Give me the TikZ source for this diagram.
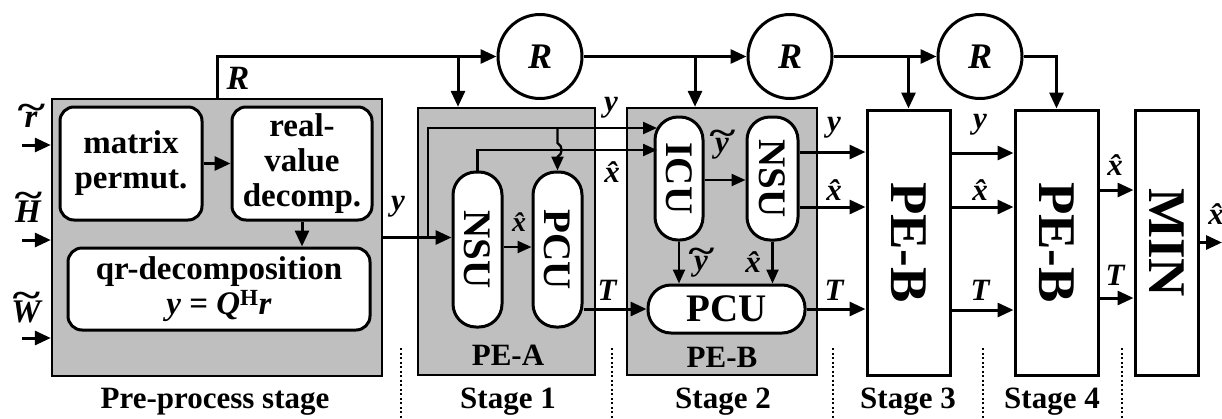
\documentclass[tikz,border=0pt]{standalone}
\usepackage{fontspec}
\setmainfont{Liberation Serif}
\usetikzlibrary{arrows.meta,calc}
\newcommand\fsz[2]{\fontsize{#1pt}{#2pt}\selectfont}
\newcommand\wt[2][0.26em]{\ooalign{#2\cr\hidewidth\raisebox{#1}{\scalebox{1.6}[1.1]{\~{}}}\hidewidth\cr}}
\begin{document}
\begin{tikzpicture}[x=1pt,y=-1pt,
  ln/.style={line width=3pt},
  thin/.style={line width=2.3pt},
  arr/.style={ln,-{Triangle[length=16pt,width=14pt]}},
  tarr/.style={thin,-{Triangle[length=14pt,width=12pt]}},
  gbox/.style={draw,line width=2.4pt,fill=black!25,inner sep=0pt},
  box/.style={draw,line width=3pt,fill=white,rounded corners=14pt,align=center,inner sep=0pt,font=\fsz{33}{35}\bfseries},
  vpill/.style={draw,line width=3pt,fill=white,rounded corners=23pt,rotate=-90,inner sep=0pt,font=\fsz{39}{40}\bfseries},
  hpill/.style={draw,line width=3pt,fill=white,rounded corners=23pt,inner sep=0pt,font=\fsz{39}{40}\bfseries},
  bigbox/.style={draw,line width=3pt,fill=white,rotate=-90,inner sep=0pt,font=\fsz{53}{56}\bfseries},
  rcirc/.style={draw,line width=3pt,fill=white,circle,minimum size=84pt,inner sep=0pt,font=\fsz{36}{38}\bfseries\itshape},
  lbl/.style={inner sep=0pt,font=\fsz{31}{32}\bfseries\itshape},
  stg/.style={inner sep=0pt,font=\fsz{31}{32}\bfseries},
  dots/.style={line width=2pt,dash pattern=on 2pt off 2.5pt}
]
\useasboundingbox (0,0) rectangle (1222,418);

% grey stage boxes
\node[gbox,minimum width=330pt,minimum height=277pt] (pre) at (217,237.5) {};
\node[gbox,minimum width=177pt,minimum height=267pt] (s1) at (506.5,241.5) {};
\node[gbox,minimum width=190pt,minimum height=267pt] (s2) at (722,241.5) {};

% pre-process blocks
\node[box,minimum width=142pt,minimum height=113pt] (mp) at (131,163.5) {matrix\\permut.};
\node[box,minimum width=140pt,minimum height=113pt] (rv) at (302,163.5) {real-\\value\\decomp.};
\node[box,minimum width=302pt,minimum height=82pt] (qr) at (219,289) {qr-decomposition\\\textit{y} = \textit{Q}\textsuperscript{H}\textit{r}};

% stage 1
\node[vpill,minimum width=155pt,minimum height=49pt] (nsu1) at (477.5,249.5) {NSU};
\node[vpill,minimum width=155pt,minimum height=49pt] (pcu1) at (557.5,249.5) {PCU};
\node[stg] (pea) at (508,355) {PE-A};

% stage 2
\node[vpill,minimum width=123pt,minimum height=48pt] (icu) at (679,178.5) {ICU};
\node[vpill,minimum width=123pt,minimum height=51pt] (nsu2) at (772.5,178.5) {NSU};
\node[hpill,minimum width=157pt,minimum height=48pt] (pcu2) at (726.5,309) {PCU};
\node[stg] (peb) at (722,357) {PE-B};

% stage 3, 4, MIN
\node[bigbox,minimum width=265pt,minimum height=83pt] (peb3) at (908.5,242.5) {PE-B};
\node[bigbox,minimum width=265pt,minimum height=83pt] (peb4) at (1056.5,242.5) {PE-B};
\node[bigbox,minimum width=265pt,minimum height=63pt] (min) at (1166.5,242.5) {MIN};

% R registers
\node[rcirc] (r1) at (540,56.5) {R};
\node[rcirc] (r2) at (790,56.5) {R};
\node[rcirc] (r3) at (980,56.5) {R};

% inputs
\coordinate (inr) at (22,145);
\coordinate (inh) at (22,240);
\coordinate (inw) at (22,338);
\draw[arr] (inr) -- (inr -| pre.west);
\draw[arr] (inh) -- (inh -| pre.west);
\draw[arr] (inw) -- (inw -| pre.west);
\node[lbl,font=\fsz{33}{34}\bfseries\itshape] at (31,120) {\wt{r}};
\node[lbl,font=\fsz{33}{34}\bfseries\itshape] at (28,212) {\wt[0.46em]{H}};
\node[lbl,font=\fsz{33}{34}\bfseries\itshape] at (26,312) {\wt[0.46em]{W}};

% pre-process internal
\draw[arr] (mp.east) -- (rv.west);
\draw[arr] (rv.south -| 302,0) -- (qr.north -| 302,0);

% R distribution line
\draw[arr] (pre.north) |- (r1.west);
\node[lbl,font=\fsz{34}{35}\bfseries\itshape] at (238,78) {R};
\coordinate (j1) at (458,56.5);
\draw[arr] (j1) -- (j1 |- s1.north);
\draw[arr] (r1.east) -- (r2.west);
\coordinate (j2) at (695,56.5);
\draw[arr] (j2) -- (j2 |- s2.north);
\draw[arr] (r2.east) -- (r3.west);
\draw[arr] (peb3.west |- r3.west) -- (peb3.west);
\draw[arr] (r3.east) -| (peb4.west);

% y into stage 1
\draw[arr] (pre.east) -- (pre.east -| nsu1.south);
\node[lbl] at (398,207) {y};
\coordinate (b1) at (428,237.5);
\coordinate (icuy) at (657,128);
\coordinate (icux) at (657,150);
\draw[tarr] (b1) |- (icuy);
\draw[tarr] (nsu1.west) |- (icux);
\draw[tarr] (557.5,128) -- (557.5,143) .. controls (563,146) and (563,154) .. (557.5,157) -- (pcu1.west);
\node[lbl] at (611,108) {y};
\node[lbl] at (612,172) {\^{x}};
\draw[tarr] (nsu1.north |- 0,247) -- (pcu1.south |- 0,247);
\node[lbl,font=\fsz{28}{29}\bfseries\itshape] at (519,222) {\^{x}};
\draw[arr] (pcu1.north |- pcu2.west) -- (pcu2.west);
\node[lbl] at (607,290) {T};

% stage 2 internal
\draw[tarr] (icu.north |- 0,180) -- (nsu2.south |- 0,180);
\node[lbl] at (722,145) {\wt{y}};
\draw[tarr] (icu.east) -- (icu.east |- pcu2.north);
\node[lbl] at (701,263) {\wt{y}};
\draw[tarr] (nsu2.east) -- (nsu2.east |- pcu2.north);
\node[lbl] at (753,262) {\^{x}};

% stage 2 -> stage 3
\draw[arr] (nsu2.north |- 0,152) -- (peb3.south |- 0,152);
\draw[arr] (nsu2.north |- 0,207) -- (peb3.south |- 0,207);
\draw[arr] (pcu2.east) -- (pcu2.east -| peb3.south);
\node[lbl] at (834,128) {y};
\node[lbl] at (834,190) {\^{x}};
\node[lbl] at (834,290) {T};

% stage 3 -> stage 4
\draw[arr] (peb3.north |- 0,153) -- (peb4.south |- 0,153);
\draw[arr] (peb3.north |- 0,207) -- (peb4.south |- 0,207);
\draw[arr] (peb3.north |- 0,310) -- (peb4.south |- 0,310);
\node[lbl] at (980,125) {y};
\node[lbl] at (980,190) {\^{x}};
\node[lbl] at (980,290) {T};

% stage 4 -> MIN
\draw[arr] (peb4.north |- 0,190) -- (min.south |- 0,190);
\draw[arr] (peb4.north |- 0,298) -- (min.south |- 0,298);
\node[lbl] at (1115,165) {\^{x}};
\node[lbl] at (1115,275) {T};

% output
\coordinate (out) at (1222,242.5);
\draw[arr] (min.north) -- (out);
\node[lbl] at (1216,214) {\^{x}};

% stage labels
\node[stg] at (215,402) {Pre-process stage};
\node[stg] at (508,402) {Stage 1};
\node[stg] at (723,402) {Stage 2};
\node[stg] at (908,402) {Stage 3};
\node[stg] at (1052,402) {Stage 4};

% dotted separators
\foreach \xx in {401,612,833,983,1122}
  \draw[dots] (\xx,348) -- (\xx,418);
\end{tikzpicture}
\end{document}
